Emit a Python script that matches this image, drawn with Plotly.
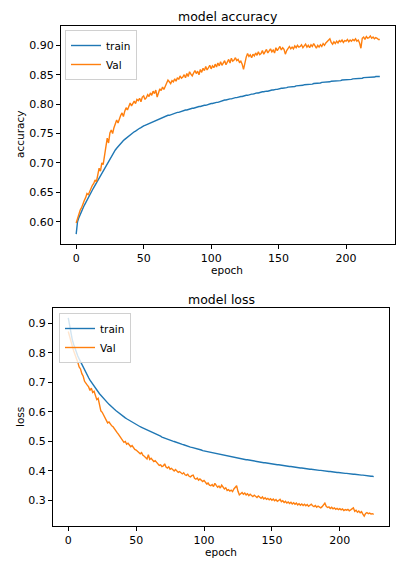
import plotly.graph_objects as go

epochs = list(range(226))

train_acc = [
    0.579, 0.600, 0.607, 0.613, 0.618, 0.623, 0.628, 0.632, 0.637, 0.641,
    0.645, 0.649, 0.654, 0.658, 0.662, 0.666, 0.671, 0.675, 0.680, 0.684,
    0.688, 0.692, 0.696, 0.700, 0.704, 0.708, 0.712, 0.716, 0.719, 0.722,
    0.725, 0.728, 0.731, 0.733, 0.736, 0.738, 0.740, 0.742, 0.744, 0.746,
    0.748, 0.750, 0.751, 0.753, 0.754, 0.756, 0.757, 0.759, 0.760, 0.762,
    0.763, 0.764, 0.765, 0.766, 0.767, 0.769, 0.770, 0.771, 0.772, 0.773,
    0.774, 0.775, 0.776, 0.776, 0.777, 0.778, 0.779, 0.780, 0.781, 0.781,
    0.782, 0.783, 0.784, 0.784, 0.785, 0.786, 0.786, 0.787, 0.788, 0.788,
    0.789, 0.790, 0.790, 0.791, 0.791, 0.792, 0.793, 0.793, 0.794, 0.794,
    0.795, 0.796, 0.796, 0.797, 0.797, 0.798, 0.798, 0.799, 0.800, 0.800,
    0.801, 0.801, 0.802, 0.802, 0.803, 0.803, 0.804, 0.805, 0.805, 0.806,
    0.807, 0.807, 0.808, 0.808, 0.809, 0.809, 0.810, 0.810, 0.811, 0.811,
    0.812, 0.812, 0.813, 0.813, 0.814, 0.814, 0.815, 0.815, 0.816, 0.816,
    0.817, 0.817, 0.818, 0.818, 0.819, 0.819, 0.820, 0.820, 0.821, 0.821,
    0.822, 0.822, 0.822, 0.823, 0.823, 0.824, 0.824, 0.825, 0.825, 0.825,
    0.826, 0.826, 0.827, 0.827, 0.827, 0.828, 0.828, 0.829, 0.829, 0.829,
    0.830, 0.830, 0.830, 0.831, 0.831, 0.831, 0.832, 0.832, 0.832, 0.833,
    0.833, 0.833, 0.834, 0.834, 0.834, 0.834, 0.835, 0.835, 0.835, 0.836,
    0.836, 0.836, 0.837, 0.837, 0.837, 0.838, 0.838, 0.838, 0.838, 0.839,
    0.839, 0.839, 0.839, 0.840, 0.840, 0.840, 0.840, 0.841, 0.841, 0.841,
    0.841, 0.842, 0.842, 0.842, 0.842, 0.843, 0.843, 0.843, 0.843, 0.844,
    0.844, 0.844, 0.844, 0.845, 0.845, 0.845, 0.845, 0.846, 0.846, 0.846,
    0.846, 0.846, 0.847, 0.847, 0.847, 0.847,
]

val_acc = [
    0.598, 0.606, 0.612, 0.620, 0.624, 0.632, 0.636, 0.641, 0.648, 0.646,
    0.652, 0.657, 0.662, 0.665, 0.671, 0.668, 0.678, 0.691, 0.686, 0.700,
    0.697, 0.712, 0.728, 0.742, 0.734, 0.751, 0.756, 0.750, 0.760, 0.765,
    0.773, 0.768, 0.776, 0.781, 0.785, 0.779, 0.788, 0.794, 0.790, 0.798,
    0.802, 0.797, 0.800, 0.805, 0.801, 0.808, 0.806, 0.810, 0.804, 0.812,
    0.814, 0.808, 0.811, 0.816, 0.813, 0.819, 0.815, 0.822, 0.818, 0.824,
    0.812, 0.821, 0.826, 0.823, 0.829, 0.825, 0.831, 0.836, 0.841, 0.838,
    0.835, 0.840, 0.838, 0.843, 0.839, 0.845, 0.842, 0.848, 0.844, 0.846,
    0.850, 0.845, 0.852, 0.847, 0.855, 0.851, 0.848, 0.853, 0.857, 0.852,
    0.856, 0.850, 0.859, 0.854, 0.861, 0.857, 0.864, 0.858, 0.862, 0.866,
    0.860, 0.865, 0.862, 0.868, 0.863, 0.870, 0.865, 0.872, 0.866, 0.869,
    0.874, 0.867, 0.872, 0.876, 0.870, 0.878, 0.873, 0.875, 0.879, 0.874,
    0.876, 0.871, 0.873, 0.868, 0.859, 0.872, 0.880, 0.886, 0.881, 0.884,
    0.879, 0.885, 0.882, 0.887, 0.883, 0.889, 0.884, 0.886, 0.891, 0.885,
    0.888, 0.893, 0.887, 0.890, 0.894, 0.889, 0.892, 0.887, 0.896, 0.891,
    0.894, 0.898, 0.892, 0.896, 0.893, 0.885, 0.891, 0.895, 0.898, 0.894,
    0.897, 0.894, 0.899, 0.896, 0.900, 0.897, 0.898, 0.901, 0.896, 0.899,
    0.902, 0.897, 0.900, 0.896, 0.901, 0.898, 0.903, 0.899, 0.895, 0.900,
    0.897, 0.901, 0.898, 0.903, 0.900, 0.904, 0.906, 0.909, 0.911, 0.905,
    0.902, 0.906, 0.903, 0.907, 0.904, 0.908, 0.906, 0.909, 0.905, 0.908,
    0.907, 0.910, 0.906, 0.909, 0.907, 0.910, 0.908, 0.911, 0.907, 0.909,
    0.904, 0.895, 0.912, 0.914, 0.910, 0.915, 0.912, 0.913, 0.916, 0.912,
    0.914, 0.911, 0.913, 0.912, 0.910, 0.910,
]

train_loss = [
    0.918, 0.888, 0.863, 0.843, 0.828, 0.813, 0.800, 0.789, 0.779, 0.769,
    0.759, 0.749, 0.740, 0.731, 0.723, 0.715, 0.707, 0.700, 0.693, 0.687,
    0.680, 0.674, 0.667, 0.661, 0.656, 0.650, 0.645, 0.639, 0.634, 0.630,
    0.625, 0.620, 0.616, 0.612, 0.608, 0.604, 0.600, 0.597, 0.593, 0.589,
    0.586, 0.582, 0.579, 0.576, 0.573, 0.570, 0.567, 0.564, 0.562, 0.559,
    0.557, 0.554, 0.552, 0.549, 0.547, 0.545, 0.543, 0.541, 0.539, 0.537,
    0.535, 0.533, 0.530, 0.528, 0.526, 0.524, 0.521, 0.519, 0.517, 0.514,
    0.512, 0.510, 0.508, 0.506, 0.505, 0.503, 0.502, 0.500, 0.499, 0.497,
    0.496, 0.494, 0.492, 0.491, 0.489, 0.488, 0.486, 0.485, 0.483, 0.482,
    0.480, 0.479, 0.478, 0.476, 0.475, 0.474, 0.472, 0.471, 0.470, 0.468,
    0.467, 0.466, 0.465, 0.464, 0.463, 0.462, 0.461, 0.460, 0.458, 0.457,
    0.456, 0.455, 0.454, 0.453, 0.452, 0.451, 0.450, 0.449, 0.448, 0.447,
    0.446, 0.446, 0.445, 0.444, 0.443, 0.442, 0.441, 0.441, 0.440, 0.439,
    0.438, 0.437, 0.437, 0.436, 0.435, 0.434, 0.434, 0.433, 0.432, 0.431,
    0.430, 0.430, 0.429, 0.428, 0.427, 0.427, 0.426, 0.425, 0.424, 0.424,
    0.423, 0.422, 0.422, 0.421, 0.420, 0.420, 0.419, 0.418, 0.418, 0.417,
    0.416, 0.416, 0.415, 0.414, 0.414, 0.413, 0.413, 0.412, 0.411, 0.411,
    0.410, 0.409, 0.409, 0.408, 0.408, 0.407, 0.406, 0.406, 0.405, 0.405,
    0.404, 0.404, 0.403, 0.402, 0.402, 0.401, 0.401, 0.400, 0.400, 0.399,
    0.399, 0.398, 0.397, 0.397, 0.396, 0.396, 0.395, 0.395, 0.394, 0.394,
    0.393, 0.393, 0.392, 0.392, 0.391, 0.391, 0.390, 0.390, 0.389, 0.389,
    0.388, 0.388, 0.387, 0.387, 0.386, 0.386, 0.385, 0.385, 0.384, 0.384,
    0.383, 0.382, 0.382, 0.381, 0.381, 0.380,
]

val_loss = [
    0.872, 0.858, 0.838, 0.822, 0.806, 0.795, 0.778, 0.768, 0.752, 0.745,
    0.729, 0.720, 0.703, 0.698, 0.690, 0.684, 0.672, 0.680, 0.665, 0.669,
    0.652, 0.641, 0.645, 0.618, 0.603, 0.598, 0.588, 0.580, 0.569, 0.562,
    0.565, 0.556, 0.552, 0.549, 0.541, 0.537, 0.529, 0.523, 0.516, 0.508,
    0.502, 0.496, 0.499, 0.490, 0.493, 0.488, 0.481, 0.485, 0.476, 0.472,
    0.470, 0.466, 0.462, 0.457, 0.461, 0.452, 0.449, 0.446, 0.440, 0.454,
    0.438, 0.442, 0.436, 0.431, 0.434, 0.428, 0.424, 0.418, 0.420, 0.414,
    0.416, 0.423, 0.412, 0.409, 0.413, 0.405, 0.408, 0.402, 0.399, 0.404,
    0.398, 0.394, 0.397, 0.392, 0.389, 0.393, 0.386, 0.384, 0.388, 0.381,
    0.379, 0.383, 0.385, 0.374, 0.371, 0.375, 0.368, 0.372, 0.366, 0.363,
    0.367, 0.360, 0.355, 0.358, 0.351, 0.349, 0.353, 0.346, 0.357, 0.350,
    0.344, 0.348, 0.341, 0.351, 0.343, 0.338, 0.342, 0.333, 0.336, 0.331,
    0.334, 0.329, 0.338, 0.345, 0.349, 0.330, 0.318, 0.322, 0.326, 0.320,
    0.324, 0.318, 0.322, 0.315, 0.320, 0.316, 0.312, 0.317, 0.313, 0.309,
    0.314, 0.309, 0.306, 0.311, 0.304, 0.308, 0.303, 0.306, 0.301, 0.305,
    0.300, 0.304, 0.298, 0.302, 0.296, 0.299, 0.303, 0.295, 0.298, 0.292,
    0.296, 0.290, 0.294, 0.289, 0.293, 0.287, 0.291, 0.286, 0.290, 0.284,
    0.288, 0.283, 0.287, 0.282, 0.286, 0.281, 0.285, 0.279, 0.283, 0.286,
    0.281, 0.278, 0.282, 0.276, 0.280, 0.277, 0.274, 0.278, 0.283, 0.290,
    0.279, 0.275, 0.277, 0.272, 0.276, 0.271, 0.274, 0.269, 0.272, 0.268,
    0.271, 0.267, 0.270, 0.265, 0.268, 0.266, 0.269, 0.264, 0.267, 0.272,
    0.274, 0.262, 0.266, 0.259, 0.263, 0.257, 0.261, 0.253, 0.246, 0.255,
    0.258, 0.254, 0.256, 0.253, 0.254, 0.252,
]

acc_ticks = [0.60, 0.65, 0.70, 0.75, 0.80, 0.85, 0.90]
loss_ticks = [0.3, 0.4, 0.5, 0.6, 0.7, 0.8, 0.9]
epoch_ticks = [0, 50, 100, 150, 200]

BLUE = "#1f77b4"
ORANGE = "#ff7f0e"
FONT = "DejaVu Sans"
W, H = 402, 567
LW = 1.4


def auto_range(*series):
    lo = min(min(s) for s in series)
    hi = max(max(s) for s in series)
    d = hi - lo
    return [lo - 0.05 * d, hi + 0.05 * d]


def px_dom_x(a, b):
    return [a / W, b / W]


def px_dom_y(top, bottom):
    return [1 - bottom / H, 1 - top / H]


fig = go.Figure()
fig.add_trace(go.Scatter(x=epochs, y=train_acc, mode="lines", name="train",
                         line=dict(color=BLUE, width=LW), xaxis="x", yaxis="y", legend="legend"))
fig.add_trace(go.Scatter(x=epochs, y=val_acc, mode="lines", name="Val",
                         line=dict(color=ORANGE, width=LW), xaxis="x", yaxis="y", legend="legend"))
fig.add_trace(go.Scatter(x=epochs, y=train_loss, mode="lines", name="train",
                         line=dict(color=BLUE, width=LW), xaxis="x2", yaxis="y2", legend="legend2"))
fig.add_trace(go.Scatter(x=epochs, y=val_loss, mode="lines", name="Val",
                         line=dict(color=ORANGE, width=LW), xaxis="x2", yaxis="y2", legend="legend2"))

ax_common = dict(showline=True, linecolor="black", linewidth=1, mirror=True,
                 showgrid=False, zeroline=False, ticks="outside", ticklen=4,
                 tickwidth=1, tickcolor="black",
                 tickfont=dict(family=FONT, size=11, color="black"))

xr = auto_range(epochs)

legend_common = dict(xanchor="left", yanchor="top",
                     bgcolor="rgba(255,255,255,0.8)", bordercolor="#d0d0d0", borderwidth=1,
                     font=dict(family=FONT, size=10.5, color="black"), itemwidth=30,
                     tracegroupgap=0)

fig.update_layout(
    width=W, height=H,
    margin=dict(l=0, r=0, t=0, b=0),
    paper_bgcolor="white", plot_bgcolor="white",
    font=dict(family=FONT, color="black"),
    xaxis=dict(domain=px_dom_x(61, 395), range=xr, tickvals=epoch_ticks,
               anchor="y", **ax_common),
    yaxis=dict(domain=px_dom_y(26, 244), range=auto_range(train_acc, val_acc),
               tickvals=acc_ticks, tickformat=".2f", anchor="x", **ax_common),
    xaxis2=dict(domain=px_dom_x(53, 389), range=xr, tickvals=epoch_ticks,
                anchor="y2", **ax_common),
    yaxis2=dict(domain=px_dom_y(308, 526), range=auto_range(train_loss, val_loss),
                tickvals=loss_ticks, tickformat=".1f", anchor="x2", **ax_common),
    legend=dict(x=65 / W, y=1 - 30 / H, **legend_common),
    legend2=dict(x=59 / W, y=1 - 313 / H, **legend_common),
    showlegend=True,
)

annots = [
    ("model accuracy", 228, 17, 12.5, 0),
    ("epoch", 227, 270, 10.5, 0),
    ("accuracy", 20, 135, 10.5, -90),
    ("model loss", 221, 299, 12.5, 0),
    ("epoch", 221, 552, 10.5, 0),
    ("loss", 20, 417, 10.5, -90),
]
for text, x, y, size, ang in annots:
    fig.add_annotation(text=text, x=x / W, y=1 - y / H, xref="paper", yref="paper",
                       xanchor="center", yanchor="middle", showarrow=False,
                       textangle=ang, font=dict(family=FONT, size=size, color="black"))

fig.write_html("out.html", config={"displayModeBar": False},
               post_script="document.body.style.margin='0';")
